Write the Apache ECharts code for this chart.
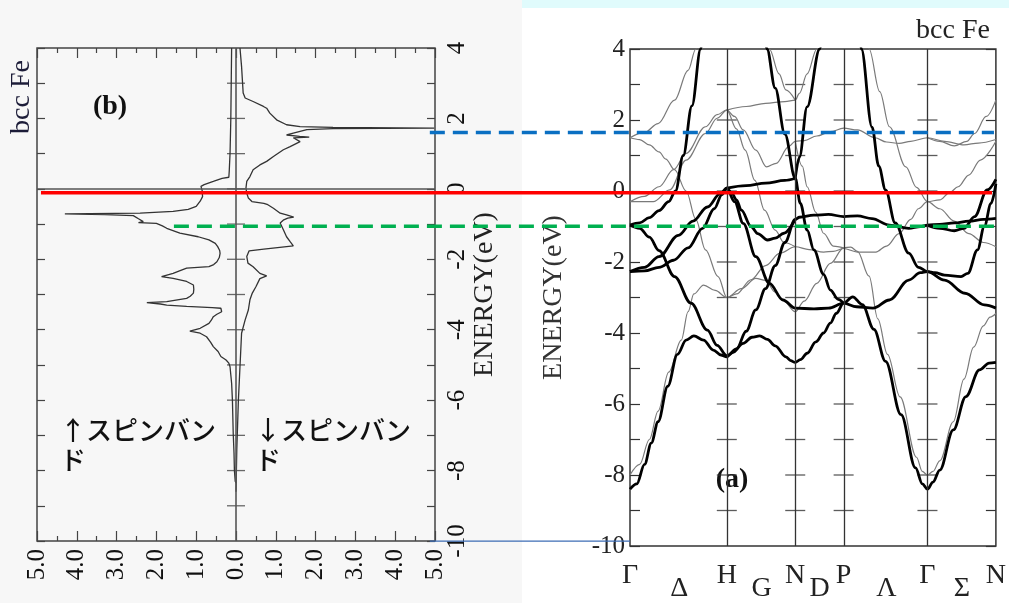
<!DOCTYPE html>
<html>
<head>
<meta charset="utf-8">
<style>
  html, body { margin: 0; padding: 0; background: #fff; }
  #chart { width: 1009px; height: 603px; }
</style>
<script src="https://cdn.jsdelivr.net/npm/echarts@6.0.0/dist/echarts.min.js"></script>
</head>
<body>
<div id="chart"></div>
<script>
const SERIF = 'Liberation Serif';
const CJK = 'Noto Sans CJK JP';

// energy ticks (eV) shared by both panels
const energyTicks = [-10, -9, -8, -7, -6, -5, -4, -3, -2, -1, 0, 1, 2, 3, 4];

// ---- (b) density of states ----
const upEnergy = [4.0, 3.0, 2.0, 1.0, 0.5, 0.33, 0.30, 0.21, 0.12, 0.07, -0.05, -0.22, -0.35, -0.5, -0.58, -0.64,
  -0.69, -0.71, -0.73, -0.76, -0.85, -0.93, -0.96, -0.98, -1.05, -1.12, -1.26, -1.36, -1.45, -1.55, -1.64,
  -1.75, -1.83, -1.95, -2.07, -2.15, -2.21, -2.25, -2.33, -2.40, -2.49, -2.54, -2.63, -2.73, -2.85, -2.96,
  -3.05, -3.11, -3.20, -3.23, -3.27, -3.30, -3.34, -3.37, -3.39, -3.49, -3.56, -3.63, -3.73, -3.82, -3.96,
  -4.04, -4.10, -4.20, -4.35, -4.48, -4.62, -4.76, -4.86, -4.95, -5.05, -5.52, -6.0, -6.94, -7.5, -8.0, -8.3, -8.35];
const upDos = [0.11, 0.12, 0.13, 0.15, 0.17, 0.18, 0.35, 0.57, 0.80, 0.88, 0.85, 0.84, 0.90, 1.0, 1.2, 1.58,
  2.41, 4.3, 3.3, 2.58, 2.45, 2.33, 2.45, 2.0, 1.85, 1.74, 1.41, 0.95, 0.68, 0.52, 0.46,
  0.41, 0.40, 0.42, 0.48, 0.56, 0.68, 1.24, 1.42, 1.58, 1.87, 1.58, 1.24, 1.07, 1.06, 1.07,
  1.15, 1.24, 1.74, 2.24, 1.9, 1.74, 1.24, 0.6, 0.38, 0.36, 0.48, 0.57, 0.62, 0.68, 0.90,
  1.16, 0.90, 0.74, 0.64, 0.57, 0.45, 0.38, 0.25, 0.18, 0.15, 0.11, 0.09, 0.07, 0.05, 0.04, 0.02, 0.0];

const downEnergy = [4.0, 3.47, 2.72, 2.58, 2.48, 2.34, 2.29, 2.15, 1.96, 1.82, 1.77, 1.745, 1.725, 1.71, 1.68,
  1.58, 1.53, 1.49, 1.47, 1.45, 1.34, 1.20, 1.11, 0.92, 0.78, 0.68, 0.54, 0.35, 0.21, 0.02, -0.12, -0.26,
  -0.36, -0.41, -0.45, -0.55, -0.69, -0.74, -0.80, -0.83, -0.88, -0.97, -1.16, -1.36, -1.50, -1.62, -1.66,
  -1.71, -1.76, -1.92, -2.11, -2.21, -2.40, -2.47, -2.55, -2.78, -2.96, -3.15, -3.44, -3.72, -4.10, -5.05,
  -6.0, -7.41, -8.6];
const downDos = [0.10, 0.14, 0.18, 0.23, 0.43, 0.69, 0.77, 0.85, 1.02, 1.27, 1.61, 2.44, 4.98, 2.44, 1.78,
  1.44, 1.27, 1.6, 1.84, 1.44, 1.61, 1.36, 1.19, 0.94, 0.77, 0.60, 0.43, 0.35, 0.27, 0.25, 0.27, 0.31,
  0.40, 0.70, 0.80, 0.94, 1.11, 1.27, 1.45, 1.30, 1.20, 1.11, 1.19, 1.27, 1.36, 1.44, 1.10,
  0.70, 0.33, 0.27, 0.30, 0.43, 0.60, 0.77, 0.60, 0.50, 0.41, 0.35, 0.31, 0.23, 0.14, 0.10,
  0.06, 0.02, 0.0];

// ---- (a) band structure, k in units of 2pi/a along G-H-N-P-G-N ----
const kPoints = [0, 1.0, 1.707, 2.207, 3.073, 3.78];
const kTickPos = [0, 0.51, 1.0, 1.36, 1.707, 1.96, 2.207, 2.65, 3.073, 3.43, 3.78];
const kTickLabels = ['Γ', 'Δ', 'H', 'G', 'N', 'D', 'P', 'Λ', 'Γ', 'Σ', 'N'];
const kTickLow = [false, true, false, true, false, true, false, true, false, true, false];

// majority spin (thick)
const up1 = [[0,-8.4],[0.07,-8.25],[0.15,-7.7],[0.22,-7.1],[0.29,-6.5],[0.39,-5.5],[0.49,-4.6],[0.58,-4.2],[0.66,-4.08],[0.76,-4.2],[0.86,-4.48],[0.94,-4.62],[1.0,-4.67],[1.06,-4.55],[1.17,-4.29],[1.26,-4.12],[1.34,-4.08],[1.42,-4.18],[1.5,-4.36],[1.61,-4.67],[1.66,-4.78],[1.707,-4.83],[1.76,-4.75],[1.83,-4.57],[1.92,-4.25],[2.0,-4.0],[2.07,-3.72],[2.13,-3.45],[2.207,-3.16],[2.3,-2.98],[2.4,-3.2],[2.52,-3.9],[2.64,-4.8],[2.8,-6.3],[2.95,-7.8],[3.02,-8.25],[3.073,-8.4],[3.13,-8.2],[3.2,-7.86],[3.34,-6.73],[3.47,-5.79],[3.61,-5.04],[3.71,-4.85],[3.78,-4.83]];
const up2 = [[0,-0.96],[0.1,-1.05],[0.2,-1.3],[0.3,-1.68],[0.46,-2.41],[0.63,-3.16],[0.8,-3.92],[0.9,-4.35],[1.0,-4.64],[1.1,-4.45],[1.2,-3.95],[1.3,-3.35],[1.4,-2.75],[1.5,-2.1],[1.6,-1.45],[1.707,-0.8],[1.75,-0.74],[1.9,-0.68],[2.05,-0.66],[2.207,-0.72],[2.35,-0.7],[2.5,-0.78],[2.68,-0.96],[2.88,-1.05],[3.0,-1.0],[3.073,-0.96],[3.2,-0.94],[3.35,-0.9],[3.5,-0.85],[3.65,-0.8],[3.78,-0.77]];
const up3 = [[0,-2.27],[0.15,-2.15],[0.3,-1.85],[0.5,-1.25],[0.65,-0.85],[0.8,-0.45],[0.93,-0.08],[1.0,0.08],[1.05,-0.05],[1.1,-0.25],[1.15,-0.54],[1.25,-1.0],[1.32,-1.2],[1.42,-1.38],[1.5,-1.33],[1.59,-1.19],[1.707,-0.8]];
const up4 = [[0,-2.27],[0.15,-2.25],[0.3,-2.15],[0.45,-1.95],[0.6,-1.6],[0.75,-1.05],[0.87,-0.5],[0.95,-0.1],[1.0,0.08],[1.08,-0.3],[1.17,-0.91],[1.3,-1.85],[1.44,-2.6],[1.58,-3.07],[1.707,-3.3],[1.9,-3.32],[2.05,-3.3],[2.207,-3.16],[2.34,-3.26],[2.51,-3.3],[2.68,-3.07],[2.88,-2.51],[3.0,-2.3],[3.073,-2.27],[3.25,-2.51],[3.46,-2.88],[3.66,-3.21],[3.78,-3.3]];
const up5 = [[0,-0.96],[0.1,-0.9],[0.2,-0.75],[0.3,-0.55],[0.4,-0.3],[0.47,0],[0.55,1.0],[0.64,2.4],[0.73,4.0],[0.77,4.7]];
const up6 = [[1.38,4.5],[1.415,4.0],[1.5,2.9],[1.6,1.6],[1.707,0.36],[1.76,-0.35],[1.83,-1.1],[1.9,-1.66],[2.0,-2.35],[2.07,-2.79],[2.15,-3.05],[2.207,-3.16]];
const up7 = [[1.0,0.08],[1.2,0.15],[1.4,0.22],[1.6,0.3],[1.707,0.36]];
const up8 = [[1.707,0.36],[1.75,0.95],[1.83,2.37],[1.96,4.0],[2.0,4.6]];
const up9 = [[2.36,4.6],[2.39,4.0],[2.5,1.8],[2.57,0.7],[2.64,0.03],[2.74,-0.9],[2.88,-1.75],[2.98,-2.15],[3.073,-2.27],[3.15,-2.3],[3.25,-2.37],[3.42,-2.41],[3.49,-2.32],[3.59,-1.66],[3.66,-1.0],[3.73,-0.35],[3.78,0.2]];
const up10 = [[3.073,-0.96],[3.2,-1.05],[3.35,-1.12],[3.45,-1.05],[3.56,-0.72],[3.69,0.03],[3.78,0.33]];

// minority spin (thin)
const dn1 = [[0,-8.0],[0.1,-7.7],[0.2,-7.0],[0.29,-6.2],[0.4,-5.1],[0.53,-4.2],[0.6,-3.4],[0.66,-2.9],[0.76,-2.65],[0.88,-2.8],[1.0,-3.0],[1.15,-2.75],[1.3,-2.46],[1.4,-2.52],[1.5,-2.85],[1.58,-3.07],[1.707,-3.4],[1.8,-3.1],[1.93,-2.6],[2.07,-2.04],[2.207,-1.6],[2.28,-1.58],[2.35,-1.7],[2.47,-2.4],[2.56,-3.6],[2.66,-4.6],[2.79,-5.8],[2.96,-7.5],[3.02,-7.9],[3.073,-8.0],[3.13,-7.9],[3.2,-7.6],[3.34,-6.5],[3.45,-5.3],[3.55,-4.4],[3.65,-3.8],[3.72,-3.55],[3.78,-3.45]];
const dn2 = [[0,1.5],[0.1,1.45],[0.2,1.3],[0.3,1.1],[0.37,0.9],[0.46,0.6],[0.58,0.0],[0.68,-0.8],[0.78,-1.66],[0.91,-2.41],[1.0,-3.0],[1.1,-2.9],[1.25,-2.5],[1.4,-2.1],[1.55,-1.75],[1.707,-1.57],[1.85,-1.65],[2.0,-1.72],[2.1,-1.7],[2.207,-1.62],[2.35,-1.72],[2.54,-1.72],[2.65,-1.55],[2.78,-1.2],[2.9,-0.8],[2.98,-0.5],[3.073,-0.3],[3.2,-0.5],[3.35,-0.85],[3.5,-1.2],[3.65,-1.45],[3.78,-1.57]];
const dn3 = [[0,-0.3],[0.12,-0.3],[0.24,-0.3],[0.41,0.03],[0.58,0.87],[0.78,1.62],[0.9,2.05],[1.0,2.28],[1.08,2.1],[1.17,1.72],[1.3,1.15],[1.41,0.68],[1.51,0.78],[1.64,1.25],[1.707,1.4],[1.8,1.42],[1.93,1.55],[2.07,1.67],[2.207,1.77],[2.35,1.72],[2.53,1.5],[2.65,1.38],[2.78,1.34],[2.9,1.4],[3.073,1.5],[3.25,1.4],[3.45,1.3],[3.6,1.35],[3.78,1.45]];
const dn4 = [[0,-0.3],[0.15,-0.15],[0.3,0.12],[0.45,0.6],[0.58,1.06],[0.78,1.81],[0.9,2.15],[1.0,2.28],[1.1,1.75],[1.19,1.15],[1.29,0.3],[1.39,-0.54],[1.5,-1.1],[1.59,-1.45],[1.707,-1.57]];
const dn5 = [[0,1.5],[0.15,1.65],[0.29,1.9],[0.46,2.56],[0.6,3.4],[0.68,4.0],[0.72,4.5]];
const dn6 = [[1.0,2.28],[1.2,2.38],[1.4,2.47],[1.6,2.52],[1.707,2.56],[1.75,2.75],[1.83,3.3],[1.93,4.0],[1.97,4.4]];
const dn7 = [[1.4,4.6],[1.44,4.0],[1.54,3.3],[1.61,2.85],[1.707,2.56]];
const dn8 = [[1.707,1.4],[1.78,0.7],[1.83,0.12],[1.92,-0.6],[2.0,-1.19],[2.1,-1.55],[2.207,-1.6]];
const dn9 = [[2.44,4.6],[2.47,4.0],[2.58,2.8],[2.68,1.81],[2.85,0.68],[2.96,0.1],[3.073,-0.3],[3.2,-0.25],[3.3,-0.05],[3.39,0.12],[3.5,0.45],[3.62,0.87],[3.78,1.4]];
const dn10 = [[3.073,1.5],[3.2,1.4],[3.35,1.27],[3.48,1.4],[3.56,1.62],[3.68,2.1],[3.78,2.56]];

const majorityBands = [up1, up2, up3, up4, up5, up6, up7, up8, up9, up10];
const minorityBands = [dn1, dn2, dn3, dn4, dn5, dn6, dn7, dn8, dn9, dn10];

// overlay guide lines: energy on panel (a), start on DOS axis of (b), end on k axis of (a)
const guideEnergy = [1.65, -0.05, -0.99, -9.86];
const guideStartDos = [4.87, -4.9, -1.56, 4.87];
const guideEndK = [3.76, 3.74, 3.76, 0];
const guideColor = ['#0a6fc2', '#ff0000', '#00b050', '#3d6db5'];
const guideWidth = [3.5, 3.5, 3.5, 1.3];
const guideDashed = [true, false, true, false];

const chart = echarts.init(document.getElementById('chart'));

const tickStyle = { color: '#444', width: 1.2 };
const innerEnergies = energyTicks.filter(e => e > -10 && e < 4);
const evenLabel = v => (v % 2 === 0 ? String(v) : '');

const bandSeries = (bands, thick) => bands.map(b => ({
  type: 'line',
  xAxisIndex: 2,
  yAxisIndex: 2,
  data: b,
  showSymbol: false,
  smooth: 0.35,
  smoothMonotone: 'x',
  clip: true,
  silent: true,
  lineStyle: thick ? { color: '#000', width: 2.8 } : { color: '#7a7a7a', width: 1.2 },
  z: thick ? 4 : 3
}));

const option = {
  animation: false,
  backgroundColor: 'transparent',
  graphic: [
    { id: 'bgLeft', type: 'rect', z: -10, shape: { x: 0, y: 0, width: 522, height: 603 }, style: { fill: '#f7f7f7' }, silent: true },
    { id: 'bgStrip', type: 'rect', z: -10, shape: { x: 522, y: 0, width: 487, height: 8 }, style: { fill: '#e0fbfc' }, silent: true },
    { id: 'titleB', type: 'text', x: 22, y: 97, rotation: Math.PI / 2,
      style: { text: 'bcc Fe', font: `28px "${SERIF}"`, fill: '#1c1c38', align: 'center', verticalAlign: 'middle' } },
    { id: 'tagB', type: 'text', x: 110, y: 107,
      style: { text: '(b)', font: `bold 28px "${SERIF}"`, fill: '#111', align: 'center', verticalAlign: 'middle' } },
    { id: 'titleA', type: 'text', x: 953, y: 31,
      style: { text: 'bcc Fe', font: `28px "${SERIF}"`, fill: '#222', align: 'center', verticalAlign: 'middle' } },
    { id: 'tagA', type: 'text', x: 732, y: 480,
      style: { text: '(a)', font: `bold 28px "${SERIF}"`, fill: '#111', align: 'center', verticalAlign: 'middle' } },
    { id: 'spinUp', type: 'text', x: 60, y: 415,
      style: { text: '↑スピンバンド', font: `500 26px "${CJK}"`, fill: '#111', width: 162, overflow: 'break', lineHeight: 30, align: 'left', verticalAlign: 'top' } },
    { id: 'spinDown', type: 'text', x: 255, y: 415,
      style: { text: '↓スピンバンド', font: `500 26px "${CJK}"`, fill: '#111', width: 162, overflow: 'break', lineHeight: 30, align: 'left', verticalAlign: 'top' } }
  ],
  grid: [
    { left: 37, top: 48, width: 398, height: 493, show: true, borderColor: '#444', borderWidth: 1.5, backgroundColor: '#f7f7f7' },
    { left: 630, top: 49, width: 372, height: 497, show: true, borderColor: '#333', borderWidth: 1.5, backgroundColor: '#fff' }
  ],
  xAxis: [
    {
      gridIndex: 0, type: 'value', min: -5, max: 5, interval: 1, position: 'bottom',
      axisLine: { show: false, onZero: false },
      axisTick: { inside: true, length: 10, lineStyle: tickStyle },
      minorTick: { show: true, splitNumber: 2, length: 5, lineStyle: tickStyle },
      splitLine: { show: false }, minorSplitLine: { show: false },
      axisLabel: { rotate: 90, margin: 8, fontFamily: SERIF, fontSize: 25, color: '#111',
        formatter: v => Math.abs(v).toFixed(1) }
    },
    {
      gridIndex: 0, type: 'value', min: -5, max: 5, interval: 1, position: 'top',
      axisLine: { show: false, onZero: false },
      axisTick: { inside: true, length: 10, lineStyle: tickStyle },
      minorTick: { show: true, splitNumber: 2, length: 5, lineStyle: tickStyle },
      splitLine: { show: false }, minorSplitLine: { show: false },
      axisLabel: { show: false }
    },
    {
      gridIndex: 1, type: 'value', min: 0, max: 3.78, position: 'bottom',
      axisLine: { show: false, onZero: false }, axisTick: { show: false }, splitLine: { show: false },
      axisLabel: {
        customValues: kTickPos, margin: 16, hideOverlap: false,
        formatter: v => {
          const i = kTickPos.findIndex(p => Math.abs(p - v) < 1e-6);
          if (i < 0) return '';
          return kTickLow[i] ? `{lo|${kTickLabels[i]}}` : `{hi|${kTickLabels[i]}}`;
        },
        rich: {
          hi: { fontFamily: SERIF, fontSize: 28, color: '#222' },
          lo: { fontFamily: SERIF, fontSize: 28, color: '#222', padding: [13, 0, 0, 0] }
        }
      }
    }
  ],
  yAxis: [
    {
      gridIndex: 0, type: 'value', min: -10, max: 4, interval: 1, position: 'left',
      axisLine: { show: false, onZero: false }, axisTick: { inside: true, length: 8, lineStyle: tickStyle },
      axisLabel: { show: false }, splitLine: { show: false }
    },
    {
      gridIndex: 0, type: 'value', min: -10, max: 4, interval: 1, position: 'right',
      axisLine: { show: false, onZero: false }, axisTick: { inside: true, length: 8, lineStyle: tickStyle },
      axisLabel: { rotate: 90, margin: 10, fontFamily: SERIF, fontSize: 25, color: '#111', formatter: evenLabel },
      splitLine: { show: false },
      name: 'ENERGY(eV)', nameLocation: 'middle', nameRotate: 90, nameGap: 34,
      nameTextStyle: { fontFamily: SERIF, fontSize: 28, color: '#222' }
    },
    {
      gridIndex: 1, type: 'value', min: -10, max: 4, interval: 1, position: 'left',
      axisLine: { show: false, onZero: false }, axisTick: { inside: true, length: 10, lineStyle: { color: '#333', width: 1.2 } },
      axisLabel: { margin: 5, fontFamily: SERIF, fontSize: 25, color: '#222', formatter: evenLabel },
      splitLine: { show: false },
      name: 'ENERGY(eV)', nameLocation: 'middle', nameRotate: 90, nameGap: 62,
      nameTextStyle: { fontFamily: SERIF, fontSize: 28, color: '#333' }
    },
    {
      gridIndex: 1, type: 'value', min: -10, max: 4, interval: 1, position: 'right',
      axisLine: { show: false, onZero: false }, axisTick: { inside: true, length: 10, lineStyle: { color: '#333', width: 1.2 } },
      axisLabel: { show: false }, splitLine: { show: false }
    }
  ],
  series: [
    {
      name: 'up DOS', type: 'line', xAxisIndex: 0, yAxisIndex: 0,
      data: upEnergy.map((e, i) => [-upDos[i], e]),
      showSymbol: false, silent: true,
      lineStyle: { color: '#333', width: 1.3 },
      markLine: {
        silent: true, symbol: 'none', label: { show: false },
        lineStyle: { color: '#555', width: 1.6, type: 'solid' },
        data: [{ yAxis: 0 }, { xAxis: 0 }]
      }
    },
    {
      name: 'down DOS', type: 'line', xAxisIndex: 0, yAxisIndex: 0,
      data: downEnergy.map((e, i) => [downDos[i], e]),
      showSymbol: false, silent: true,
      lineStyle: { color: '#333', width: 1.3 }
    },
    {
      name: 'DOS centre ticks', type: 'scatter', xAxisIndex: 0, yAxisIndex: 0,
      data: innerEnergies.map(e => [0, e]),
      symbol: 'rect', symbolSize: [18, 1.3], silent: true,
      itemStyle: { color: '#444' }
    },
    {
      name: 'k lines', type: 'scatter', xAxisIndex: 2, yAxisIndex: 2,
      data: kPoints.slice(1, -1).flatMap(k => innerEnergies.map(e => [k, e])),
      symbol: 'rect', symbolSize: [20, 1.3], silent: true,
      itemStyle: { color: '#333' },
      markLine: {
        silent: true, symbol: 'none', label: { show: false },
        lineStyle: { color: '#333', width: 1.3, type: 'solid' },
        data: kPoints.slice(1, -1).map(k => ({ xAxis: k }))
      }
    },
    ...bandSeries(minorityBands, false),
    ...bandSeries(majorityBands, true)
  ]
};

chart.setOption(option);

// guide lines spanning both panels, placed through the axes
const guides = guideEnergy.map((e, i) => {
  const y = chart.convertToPixel({ xAxisIndex: 2, yAxisIndex: 2 }, [0, e])[1];
  const x1 = chart.convertToPixel({ xAxisIndex: 0, yAxisIndex: 0 }, [guideStartDos[i], 0])[0];
  const x2 = chart.convertToPixel({ xAxisIndex: 2, yAxisIndex: 2 }, [guideEndK[i], e])[0];
  return {
    id: 'guide' + i, type: 'line', z: 50, silent: true,
    shape: { x1, y1: y, x2, y2: y },
    style: { stroke: guideColor[i], lineWidth: guideWidth[i], lineDash: guideDashed[i] ? [15, 8] : null }
  };
});
chart.setOption({ graphic: guides });
</script>
</body>
</html>
